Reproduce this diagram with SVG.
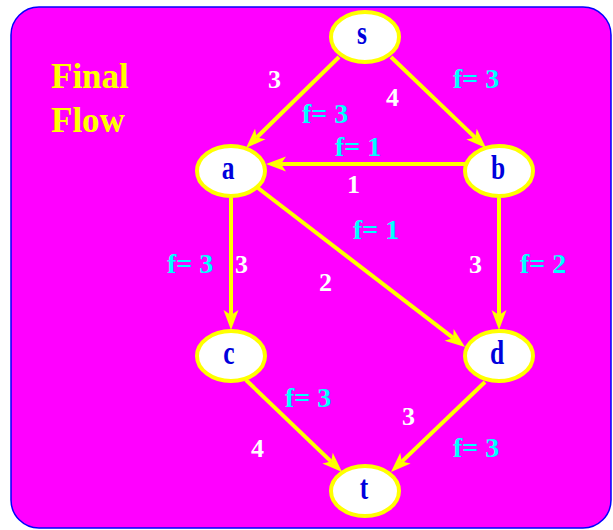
<svg xmlns="http://www.w3.org/2000/svg" width="613" height="530" viewBox="0 0 613 530">
<style>
.bg{fill:#FF00FF;stroke:#0000FF;stroke-width:1.5}
.node ellipse{fill:#FFFFFF;stroke:#FFFF00;stroke-width:4}
.node text{font-family:"Liberation Serif","Times New Roman",serif;font-weight:bold;font-size:30px;fill:#0000DD;text-anchor:middle}
.edge{stroke:#FFFF00;stroke-width:4;fill:none;marker-end:url(#ah)}
.cap{font-family:"Liberation Serif","Times New Roman",serif;font-weight:bold;font-size:26px;fill:#FFFFFF}
.flow{font-family:"Liberation Serif","Times New Roman",serif;font-weight:bold;font-size:28px;fill:#00FFFF}
.title{font-family:"Liberation Serif","Times New Roman",serif;font-weight:bold;font-size:35px;fill:#FFFF00}
</style>
<defs>
<marker id="ah" markerUnits="userSpaceOnUse" markerWidth="30" markerHeight="30" refX="0" refY="0" orient="auto" overflow="visible">
<path d="M-5,-7.5 L15,0 L-5,7.5 L0,0 Z" fill="#FFFF00"/>
</marker>
</defs>
<rect class="bg" x="11" y="7" width="600" height="521" rx="28" ry="28"/>
<g id="title">
<text class="title" x="51" y="88">Final</text>
<text class="title" x="51" y="132">Flow</text>
</g>
<g id="connectors">
<path class="edge" d="M339,57 L256.7,137.5"/>
<path class="edge" d="M391,57 L475.2,137.6"/>
<path class="edge" d="M465,164 L281,164"/>
<path class="edge" d="M231,198 L231,315"/>
<path class="edge" d="M258,188 L453.1,337.9"/>
<path class="edge" d="M499,198 L499,315"/>
<path class="edge" d="M246,380 L331.2,461.6"/>
<path class="edge" d="M485,382 L401.8,461.6"/>
</g>
<g id="labels">
<text class="cap" x="268" y="88">3</text>
<text class="cap" x="386" y="106">4</text>
<text class="flow" x="453" y="88">f= 3</text>
<text class="flow" x="302" y="123">f= 3</text>
<text class="flow" x="335" y="156">f= 1</text>
<text class="cap" x="347" y="193">1</text>
<text class="flow" x="353" y="239">f= 1</text>
<text class="flow" x="167" y="273">f= 3</text>
<text class="cap" x="235" y="273">3</text>
<text class="cap" x="319" y="291">2</text>
<text class="cap" x="469" y="273">3</text>
<text class="flow" x="520" y="273">f= 2</text>
<text class="flow" x="285" y="407">f= 3</text>
<text class="cap" x="402" y="425">3</text>
<text class="cap" x="251" y="457">4</text>
<text class="flow" x="453" y="457">f= 3</text>
</g>
<g id="node-s" class="node"><ellipse cx="365" cy="37" rx="34" ry="25"/><text transform="translate(362,44) scale(0.85,1.1)">s</text></g>
<g id="node-a" class="node"><ellipse cx="231" cy="171" rx="34" ry="25"/><text transform="translate(228,179) scale(0.85,1.1)">a</text></g>
<g id="node-b" class="node"><ellipse cx="499" cy="171" rx="34" ry="25"/><text transform="translate(498,179) scale(0.85,1.1)">b</text></g>
<g id="node-c" class="node"><ellipse cx="231" cy="356" rx="34" ry="25"/><text transform="translate(229,364) scale(0.85,1.1)">c</text></g>
<g id="node-d" class="node"><ellipse cx="499" cy="356" rx="34" ry="25"/><text transform="translate(497,364) scale(0.85,1.1)">d</text></g>
<g id="node-t" class="node"><ellipse cx="365" cy="491" rx="34" ry="25"/><text transform="translate(364,499) scale(0.85,1.1)">t</text></g>
</svg>
